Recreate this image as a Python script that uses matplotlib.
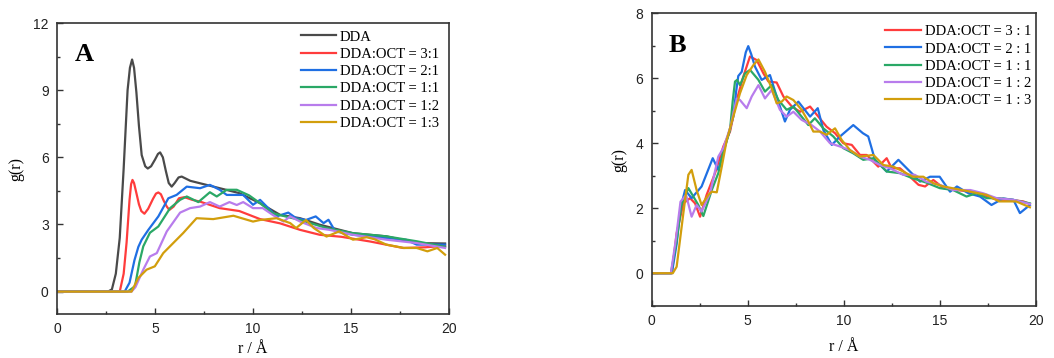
import numpy as np
import matplotlib
matplotlib.use("Agg")
import matplotlib.pyplot as plt
from matplotlib.ticker import MultipleLocator

# ---- panel A : g(r) of DDA in pure / mixed systems (r, g) ----
a_dda = np.array([
    [0, 0], [2.6, 0], [2.8, 0.1], [3.0, 0.8], [3.2, 2.4], [3.4, 5.5], [3.6, 9.0],
    [3.72, 10.0], [3.83, 10.37], [3.93, 10.0], [4.05, 8.9], [4.18, 7.4],
    [4.32, 6.1], [4.5, 5.6], [4.63, 5.5], [4.8, 5.6], [5.0, 5.9], [5.15, 6.15],
    [5.26, 6.22], [5.4, 6.0], [5.55, 5.4], [5.7, 4.85], [5.85, 4.69], [6.0, 4.85],
    [6.2, 5.1], [6.36, 5.14], [6.8, 4.95], [7.3, 4.84], [8.3, 4.62], [9.3, 4.4],
    [10.36, 3.95], [11.38, 3.43], [12.4, 3.28], [13.4, 2.99], [15.1, 2.61],
    [16.8, 2.47], [18.35, 2.17], [19.8, 2.15]])
a_31 = np.array([
    [0, 0], [3.2, 0], [3.4, 0.8], [3.55, 2.2], [3.7, 4.1], [3.78, 4.8], [3.85, 4.99],
    [3.93, 4.85], [4.05, 4.4], [4.18, 3.9], [4.3, 3.6], [4.46, 3.48], [4.65, 3.7],
    [4.9, 4.15], [5.05, 4.38], [5.17, 4.43], [5.3, 4.35], [5.45, 4.05], [5.6, 3.8],
    [5.73, 3.65], [5.95, 3.8], [6.22, 4.17], [6.5, 4.22], [6.9, 4.1], [7.3, 4.02],
    [8.3, 3.73], [9.3, 3.6], [10.36, 3.24], [11.38, 3.05], [12.4, 2.76],
    [13.4, 2.54], [14.5, 2.45], [15.97, 2.24], [17.66, 1.95], [18.8, 1.98],
    [19.8, 2.05]])
a_21 = np.array([
    [0, 0], [3.45, 0], [3.7, 0.4], [3.95, 1.4], [4.15, 2.0], [4.32, 2.32],
    [4.66, 2.76], [5.17, 3.36], [5.68, 4.17], [6.1, 4.32], [6.62, 4.69], [7.3, 4.62],
    [7.8, 4.77], [8.3, 4.55], [8.66, 4.32], [9.5, 4.32], [10.0, 3.88], [10.36, 4.1],
    [10.7, 3.8], [11.2, 3.36], [11.8, 3.53], [12.2, 3.28], [12.7, 3.2], [13.2, 3.36],
    [13.6, 3.06], [13.85, 3.21], [14.2, 2.69], [15.1, 2.54], [16.8, 2.39],
    [17.8, 2.32], [18.35, 2.1], [19.8, 2.1]])
a_11 = np.array([
    [0, 0], [3.6, 0], [3.98, 0.24], [4.2, 1.3], [4.4, 2.02], [4.74, 2.63],
    [5.17, 2.91], [5.77, 3.73], [6.28, 4.1], [6.62, 4.25], [7.21, 4.0], [7.8, 4.44],
    [8.15, 4.25], [8.66, 4.55], [9.17, 4.55], [9.8, 4.3], [10.36, 3.95], [11.0, 3.5],
    [12.4, 3.2], [13.75, 2.84], [15.1, 2.61], [15.97, 2.54], [16.8, 2.47],
    [18.35, 2.25], [19.8, 2.0]])
a_12 = np.array([
    [0, 0], [3.8, 0], [4.0, 0.2], [4.4, 0.98], [4.74, 1.57], [5.09, 1.72],
    [5.6, 2.69], [6.28, 3.53], [6.79, 3.73], [7.3, 3.8], [7.8, 4.0], [8.3, 3.8],
    [8.8, 4.0], [9.17, 3.87], [9.5, 4.0], [10.0, 3.73], [10.5, 3.73], [11.0, 3.43],
    [11.55, 3.13], [11.9, 3.36], [12.4, 3.13], [13.25, 2.84], [13.9, 2.76],
    [15.1, 2.54], [16.8, 2.32], [18.35, 2.17], [19.8, 1.95]])
a_13 = np.array([
    [0, 0], [3.8, 0], [4.14, 0.6], [4.57, 0.98], [4.99, 1.13], [5.42, 1.72],
    [5.93, 2.17], [6.44, 2.62], [7.12, 3.28], [7.97, 3.24], [9.0, 3.39],
    [10.0, 3.13], [10.36, 3.2], [11.2, 3.28], [11.9, 3.06], [12.2, 2.84],
    [12.7, 3.2], [13.1, 2.84], [13.75, 2.46], [14.4, 2.69], [15.1, 2.32],
    [15.8, 2.43], [16.2, 2.34], [16.8, 2.1], [17.7, 1.95], [18.35, 1.95],
    [18.9, 1.8], [19.4, 1.95], [19.8, 1.65]])

# ---- panel B ----
b_31 = np.array([
    [0, 0], [1.05, 0], [1.3, 1.23], [1.65, 2.15], [2.0, 2.31], [2.26, 2.15],
    [2.52, 1.74], [2.86, 2.41], [3.3, 3.08], [3.73, 3.9], [4.08, 4.36], [4.43, 5.33],
    [4.77, 6.05], [5.12, 6.67], [5.47, 6.56], [5.82, 6.15], [6.08, 5.9], [6.51, 5.87],
    [6.86, 5.44], [7.3, 5.13], [7.73, 4.97], [8.25, 5.13], [8.68, 4.82], [9.11, 4.51],
    [9.55, 4.31], [9.98, 4.0], [10.42, 3.95], [10.85, 3.64], [11.2, 3.64],
    [11.8, 3.28], [12.24, 3.54], [12.5, 3.23], [12.93, 3.23], [13.45, 2.97],
    [13.9, 2.72], [14.24, 2.67], [14.67, 2.87], [15.2, 2.62], [15.9, 2.56],
    [16.6, 2.51], [17.27, 2.41], [17.97, 2.26], [18.66, 2.26], [19.36, 2.21],
    [19.7, 2.13]])
b_21 = np.array([
    [0, 0], [1.05, 0], [1.3, 0.9], [1.5, 2.0], [1.74, 2.56], [2.08, 2.31],
    [2.6, 2.67], [3.18, 3.54], [3.47, 3.18], [3.82, 3.9], [4.25, 4.82], [4.4, 5.6],
    [4.51, 6.07], [4.69, 6.2], [4.9, 6.8], [5.03, 6.99], [5.18, 6.75], [5.38, 6.36],
    [5.73, 5.95], [6.16, 6.1], [6.51, 5.44], [6.94, 4.67], [7.2, 5.03], [7.64, 5.28],
    [8.25, 4.82], [8.65, 5.08], [8.94, 4.41], [9.38, 3.95], [9.81, 4.21],
    [10.5, 4.56], [11.0, 4.31], [11.28, 4.21], [11.63, 3.49], [12.24, 3.13],
    [12.85, 3.49], [13.37, 3.18], [13.98, 2.82], [14.5, 2.97], [15.0, 2.97],
    [15.54, 2.51], [15.9, 2.67], [16.5, 2.46], [17.1, 2.36], [17.7, 2.1],
    [18.3, 2.3], [18.84, 2.26], [19.18, 1.85], [19.7, 2.1]])
b_11 = np.array([
    [0, 0], [1.0, 0], [1.3, 1.0], [1.55, 2.1], [1.91, 2.62], [2.17, 2.36],
    [2.43, 2.1], [2.69, 1.76], [3.13, 2.56], [3.47, 3.08], [3.73, 3.74], [4.08, 4.41],
    [4.22, 5.3], [4.34, 5.9], [4.45, 5.95], [4.6, 5.79], [4.86, 6.15], [5.12, 6.26],
    [5.56, 5.95], [5.9, 5.59], [6.25, 5.79], [6.6, 5.33], [7.03, 5.03], [7.38, 5.13],
    [7.81, 4.82], [8.16, 4.56], [8.5, 4.77], [8.94, 4.46], [9.46, 4.21],
    [9.98, 3.85], [10.5, 3.69], [11.02, 3.49], [11.55, 3.54], [12.24, 3.13],
    [12.93, 3.08], [13.6, 2.92], [14.3, 2.79], [15.0, 2.62], [15.7, 2.56],
    [16.4, 2.36], [16.9, 2.46], [17.45, 2.31], [18.1, 2.31], [18.8, 2.26],
    [19.7, 2.15]])
b_12 = np.array([
    [0, 0], [1.0, 0], [1.25, 1.0], [1.5, 2.2], [1.79, 2.41], [2.08, 1.74],
    [2.34, 2.1], [2.6, 1.9], [3.04, 2.46], [3.47, 3.59], [3.73, 3.85], [4.08, 4.46],
    [4.43, 5.38], [4.6, 5.33], [4.95, 5.08], [5.21, 5.44], [5.56, 5.79], [5.9, 5.38],
    [6.25, 5.64], [6.68, 5.03], [7.03, 4.82], [7.38, 4.97], [7.81, 4.72],
    [8.33, 4.56], [8.77, 4.36], [9.29, 4.0], [9.81, 3.9], [10.33, 3.79],
    [10.85, 3.59], [11.37, 3.49], [11.89, 3.33], [12.41, 3.23], [13.1, 3.03],
    [13.7, 3.03], [14.3, 2.82], [15.0, 2.72], [15.7, 2.56], [16.6, 2.56],
    [17.27, 2.46], [17.97, 2.31], [18.84, 2.26], [19.7, 2.13]])
b_13 = np.array([
    [0, 0], [1.1, 0], [1.3, 0.2], [1.65, 1.85], [1.91, 3.03], [2.08, 3.18],
    [2.34, 2.56], [2.6, 2.1], [2.95, 2.41], [3.13, 2.51], [3.39, 2.49], [3.65, 3.28],
    [3.91, 4.1], [4.25, 4.82], [4.6, 5.54], [4.95, 6.1], [5.3, 6.41], [5.56, 6.58],
    [5.9, 6.2], [6.25, 5.69], [6.51, 5.23], [6.77, 5.28], [7.03, 5.44], [7.38, 5.33],
    [7.81, 5.03], [8.16, 4.67], [8.42, 4.36], [8.77, 4.36], [9.11, 4.26],
    [9.55, 4.46], [9.9, 4.1], [10.33, 3.79], [10.85, 3.59], [11.55, 3.64],
    [12.07, 3.33], [12.59, 3.28], [13.1, 3.13], [13.6, 2.97], [14.15, 2.97],
    [14.67, 2.77], [15.2, 2.67], [15.9, 2.59], [16.6, 2.51], [17.45, 2.41],
    [18.1, 2.21], [18.98, 2.21], [19.7, 2.03]])

labels_a = ["DDA", "DDA:OCT = 3:1", "DDA:OCT = 2:1", "DDA:OCT = 1:1",
            "DDA:OCT = 1:2", "DDA:OCT = 1:3"]
labels_b = ["DDA:OCT = 3 : 1", "DDA:OCT = 2 : 1", "DDA:OCT = 1 : 1",
            "DDA:OCT = 1 : 2", "DDA:OCT = 1 : 3"]
colors = ["#4a4a4a", "#ff3c3c", "#1f6fe3", "#2aa866", "#b87cec", "#d29e0c"]

SERIF = "Liberation Serif"
SANS = "Liberation Sans"

fig = plt.figure(figsize=(10.54, 3.58), dpi=100)
ax_a = fig.add_axes([0.0541, 0.1229, 0.3719, 0.8128])
ax_b = fig.add_axes([0.6183, 0.1461, 0.3643, 0.8167])


def style_axis(ax, ymax, ymajor, xlabelpad):
    ax.set_xlim(0, 20)
    ax.set_ylim(-1, ymax)
    ax.xaxis.set_major_locator(MultipleLocator(5))
    ax.xaxis.set_minor_locator(MultipleLocator(2.5))
    ax.yaxis.set_major_locator(MultipleLocator(ymajor))
    ax.yaxis.set_minor_locator(MultipleLocator(ymajor / 2))
    ax.tick_params(which="both", direction="in", top=False, right=False,
                   colors="#333333", labelcolor="#222222")
    ax.tick_params(which="major", length=4, width=1, labelsize=10, pad=6)
    ax.tick_params(which="minor", length=2.5, width=1)
    for lab in ax.get_xticklabels() + ax.get_yticklabels():
        lab.set_fontfamily(SANS)
    for sp in ax.spines.values():
        sp.set_linewidth(1.2)
        sp.set_color("#333333")
    ax.set_xlabel("r / Å", family=SERIF, fontsize=11.5, labelpad=xlabelpad)
    ax.set_ylabel("g(r)", family=SERIF, fontsize=11.5, labelpad=6)


for data, lab, col in zip([a_dda, a_31, a_21, a_11, a_12, a_13], labels_a, colors):
    ax_a.plot(data[:, 0], data[:, 1], color=col, lw=1.6, label=lab)
style_axis(ax_a, 12, 3, 3)
ax_a.legend(loc="upper right", bbox_to_anchor=(0.975, 0.975), frameon=False,
            borderpad=0, borderaxespad=0, handlelength=2.35, handletextpad=0.3,
            labelspacing=0.28, prop={"family": SERIF, "size": 10.5})
ax_a.text(0.045, 0.93, "A", transform=ax_a.transAxes, family=SERIF,
          fontsize=19, fontweight="bold", va="top")

for data, lab, col in zip([b_31, b_21, b_11, b_12, b_13], labels_b, colors[1:]):
    ax_b.plot(data[:, 0], data[:, 1], color=col, lw=1.6, label=lab)
style_axis(ax_b, 8, 2, 8)
ax_b.legend(loc="upper right", bbox_to_anchor=(0.99, 0.96), frameon=False,
            borderpad=0, borderaxespad=0, handlelength=2.45, handletextpad=0.3,
            labelspacing=0.28, prop={"family": SERIF, "size": 10.5})
ax_b.text(0.045, 0.93, "B", transform=ax_b.transAxes, family=SERIF,
          fontsize=19, fontweight="bold", va="top")

fig.savefig("out.png", dpi=100)
